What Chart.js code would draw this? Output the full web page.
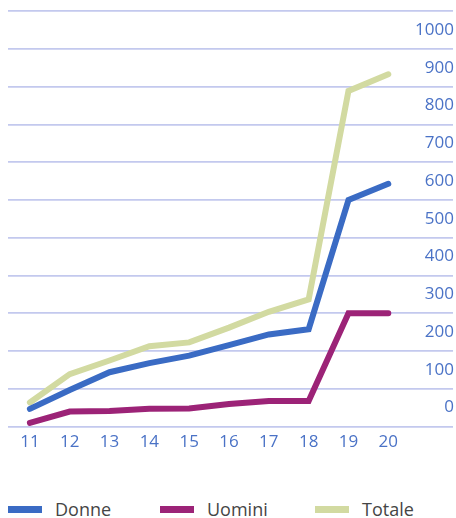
<!DOCTYPE html>
<html>
<head>
<meta charset="utf-8">
<script src="https://cdn.jsdelivr.net/npm/chart.js@4"></script>
<style>
  html, body { margin: 0; padding: 0; background: #fff; }
  #wrap { position: relative; width: 456px; height: 518px; }
  #chartBox { position: absolute; left: 0; top: 0; width: 456px; height: 470px; }
  #legend { position: absolute; left: 0; top: 497px; width: 456px; height: 24px;
            font-family: "Open Sans", sans-serif; font-size: 18px; color: #454545; }
  .item { position: absolute; top: 0; height: 24px; display: flex; align-items: center; }
  .sw { width: 34px; height: 7px; margin-right: 13px; }
</style>
</head>
<body>
<div id="wrap">
  <div id="chartBox"><canvas id="c"></canvas></div>
  <div id="legend"></div>
</div>
<script>
const years = [11, 12, 13, 14, 15, 16, 17, 18, 19, 20];
const donne = [47, 97, 144, 168, 188, 216, 244, 258, 600, 643];
const uomini = [10, 40, 41, 47, 48, 60, 68, 68, 300, 300];
const totale = [64, 139, 175, 213, 223, 262, 304, 337, 889, 933];
const yTicks = [0, 100, 200, 300, 400, 500, 600, 700, 800, 900, 1000];
const seriesNames = ['Donne', 'Uomini', 'Totale'];
const seriesColors = ['#3a6bc4', '#9c2377', '#d2daa1'];
const legendLeft = [8, 160, 315];

const tickColor = '#4a72c6';
const gridColor = '#c3c9ee';

function pts(vals) { return years.map((y, i) => ({ x: y, y: vals[i] })); }
const seriesData = [donne, uomini, totale];

const datasets = seriesNames.map((n, i) => ({
  label: n,
  data: pts(seriesData[i]),
  borderColor: seriesColors[i],
  backgroundColor: seriesColors[i],
  borderWidth: 6,
  borderCapStyle: 'round',
  borderJoinStyle: 'miter',
  pointRadius: 0,
  tension: 0,
  fill: false
}));

new Chart(document.getElementById('c'), {
  type: 'line',
  data: { datasets },
  options: {
    responsive: true,
    maintainAspectRatio: false,
    animation: false,
    layout: { padding: { left: 8, right: 1, top: 11, bottom: 13 } },
    plugins: { legend: { display: false }, tooltip: { enabled: false } },
    scales: {
      x: {
        type: 'linear',
        min: 10.45,
        max: 21.625,
        afterBuildTicks: (s) => { s.ticks = years.map(v => ({ value: v })); },
        grid: { display: false, drawTicks: false },
        border: { display: false },
        ticks: {
          color: tickColor,
          padding: 5,
          font: { family: 'Open Sans', size: 17 },
          maxRotation: 0,
          autoSkip: false,
          callback: (v) => String(v)
        }
      },
      y: {
        position: 'right',
        min: 0,
        max: 1100,
        afterBuildTicks: (s) => { s.ticks = yTicks.concat([1100]).map(v => ({ value: v })); },
        grid: { color: gridColor, lineWidth: 1.8, drawTicks: false },
        border: { display: false },
        ticks: {
          mirror: true,
          padding: 1,
          labelOffset: -19,
          color: tickColor,
          font: { family: 'Open Sans', size: 17 },
          callback: (v) => (yTicks.includes(v) ? String(v) : '')
        }
      }
    }
  }
});

const lg = document.getElementById('legend');
seriesNames.forEach((n, i) => {
  const it = document.createElement('div');
  it.className = 'item';
  it.style.left = legendLeft[i] + 'px';
  const sw = document.createElement('div');
  sw.className = 'sw';
  sw.style.background = seriesColors[i];
  const tx = document.createElement('span');
  tx.textContent = n;
  it.appendChild(sw); it.appendChild(tx);
  lg.appendChild(it);
});
</script>
</body>
</html>
